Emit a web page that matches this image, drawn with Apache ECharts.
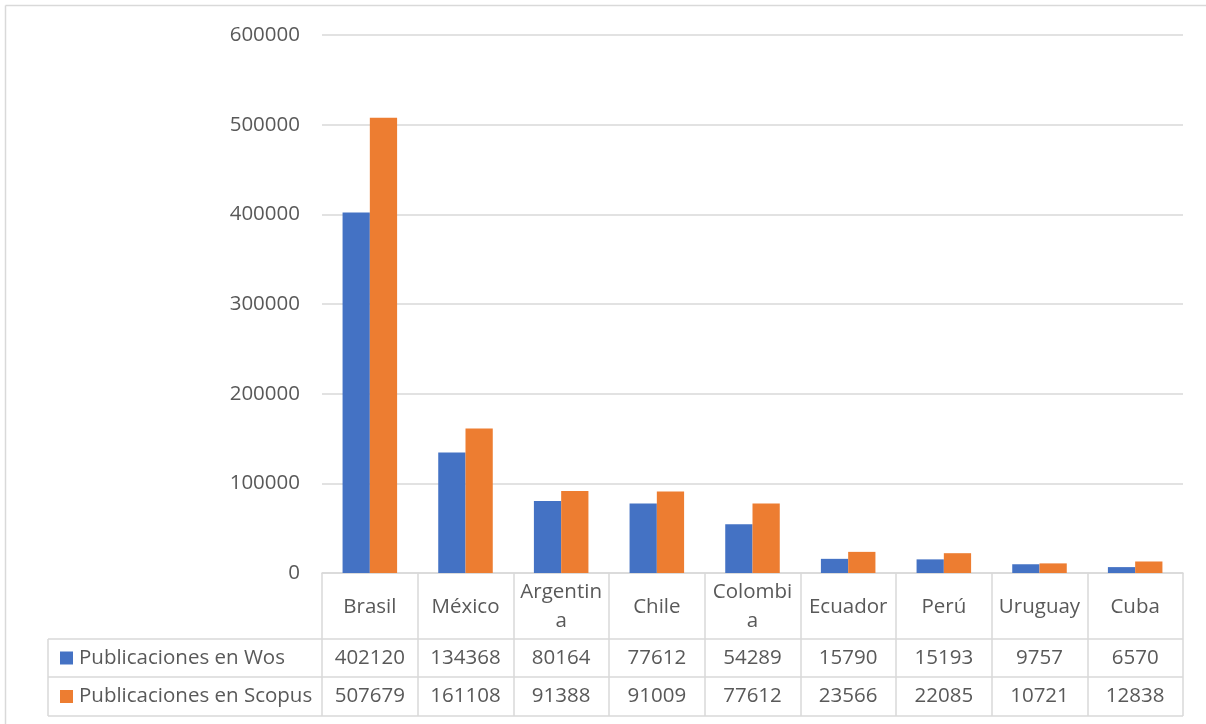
<!DOCTYPE html>
<html>
<head>
<meta charset="utf-8">
<script src="https://cdn.jsdelivr.net/npm/echarts@6/dist/echarts.min.js"></script>
<style>
html,body{margin:0;padding:0;background:#fff;}
#chart{width:1206px;height:724px;}
</style>
</head>
<body>
<div id="chart"></div>
<script>
var categories = ['Brasil', 'México', 'Argentina', 'Chile', 'Colombia', 'Ecuador', 'Perú', 'Uruguay', 'Cuba'];
var seriesNames = ['Publicaciones en Wos', 'Publicaciones en Scopus'];
var wosValues = [402120, 134368, 80164, 77612, 54289, 15790, 15193, 9757, 6570];
var scopusValues = [507679, 161108, 91388, 91009, 77612, 23566, 22085, 10721, 12838];
var yTicks = [0, 100000, 200000, 300000, 400000, 500000, 600000];

var colors = ['#4472C4', '#ED7D31'];
var textColor = '#595959';
var lineColor = '#D9D9D9';
var fontFamily = '"Open Sans", "Noto Sans", sans-serif';
var fs = 20.5;

var chart = echarts.init(document.getElementById('chart'));

var option = {
  animation: false,
  textStyle: { fontFamily: fontFamily },
  grid: { left: 322, right: 23, top: 35, bottom: 151, containLabel: false },
  xAxis: {
    type: 'category',
    data: categories,
    axisLine: { show: true, lineStyle: { color: lineColor, width: 1.5 } },
    axisTick: { show: true, interval: 0, length: 143, lineStyle: { color: lineColor, width: 1.5 } },
    axisLabel: {
      interval: 0, color: textColor, fontSize: fs, fontFamily: fontFamily,
      margin: 34, verticalAlign: 'middle', lineHeight: 29,
      width: 86, overflow: 'breakAll'
    }
  },
  yAxis: {
    type: 'value',
    min: yTicks[0],
    max: yTicks[yTicks.length - 1],
    interval: yTicks[1] - yTicks[0],
    axisLine: { show: false },
    axisTick: { show: false },
    axisLabel: { color: textColor, fontSize: fs, fontFamily: fontFamily, margin: 22,
      formatter: function (v) { return String(v); } },
    splitLine: { lineStyle: { color: lineColor, width: 1.5 } }
  },
  series: [
    { name: seriesNames[0], type: 'bar', data: wosValues, barGap: '0%', barCategoryGap: '43%',
      itemStyle: { color: colors[0] } },
    { name: seriesNames[1], type: 'bar', data: scopusValues, barGap: '0%', barCategoryGap: '43%',
      itemStyle: { color: colors[1] } }
  ]
};
chart.setOption(option);

// Build the data table from the axis scale
var c0 = chart.convertToPixel({ xAxisIndex: 0 }, 0);
var c1 = chart.convertToPixel({ xAxisIndex: 0 }, 1);
var band = c1 - c0;
var tableRight = chart.convertToPixel({ xAxisIndex: 0 }, categories.length - 1) + band / 2;
var tableLeft = 48;
var rowTops = [639, 677, 716];
var rowValues = [wosValues, scopusValues];
var g = [];

// outer chart border
g.push({ type: 'line', shape: { x1: 5.5, y1: 5.5, x2: 1206, y2: 5.5 }, style: { stroke: lineColor, lineWidth: 1.5 } });
g.push({ type: 'line', shape: { x1: 5.5, y1: 5.5, x2: 5.5, y2: 724 }, style: { stroke: lineColor, lineWidth: 1.5 } });

rowTops.forEach(function (y) {
  g.push({ type: 'line', shape: { x1: tableLeft, y1: y, x2: tableRight, y2: y }, style: { stroke: lineColor, lineWidth: 1.5 } });
});
g.push({ type: 'line', shape: { x1: tableLeft, y1: rowTops[0], x2: tableLeft, y2: rowTops[2] }, style: { stroke: lineColor, lineWidth: 1.5 } });

rowValues.forEach(function (vals, r) {
  var yc = (rowTops[r] + rowTops[r + 1]) / 2;
  g.push({ type: 'rect', shape: { x: 60, y: yc - 6.5, width: 13, height: 13 }, style: { fill: colors[r] } });
  g.push({ type: 'text', x: 79, y: yc, style: { text: seriesNames[r], fill: textColor, font: fs + 'px ' + fontFamily, textVerticalAlign: 'middle', textAlign: 'left' } });
  vals.forEach(function (v, i) {
    var xc = chart.convertToPixel({ xAxisIndex: 0 }, i);
    g.push({ type: 'text', x: xc, y: yc, style: { text: String(v), fill: textColor, font: fs + 'px ' + fontFamily, textVerticalAlign: 'middle', textAlign: 'center' } });
  });
});

chart.setOption({ graphic: g });
</script>
</body>
</html>
